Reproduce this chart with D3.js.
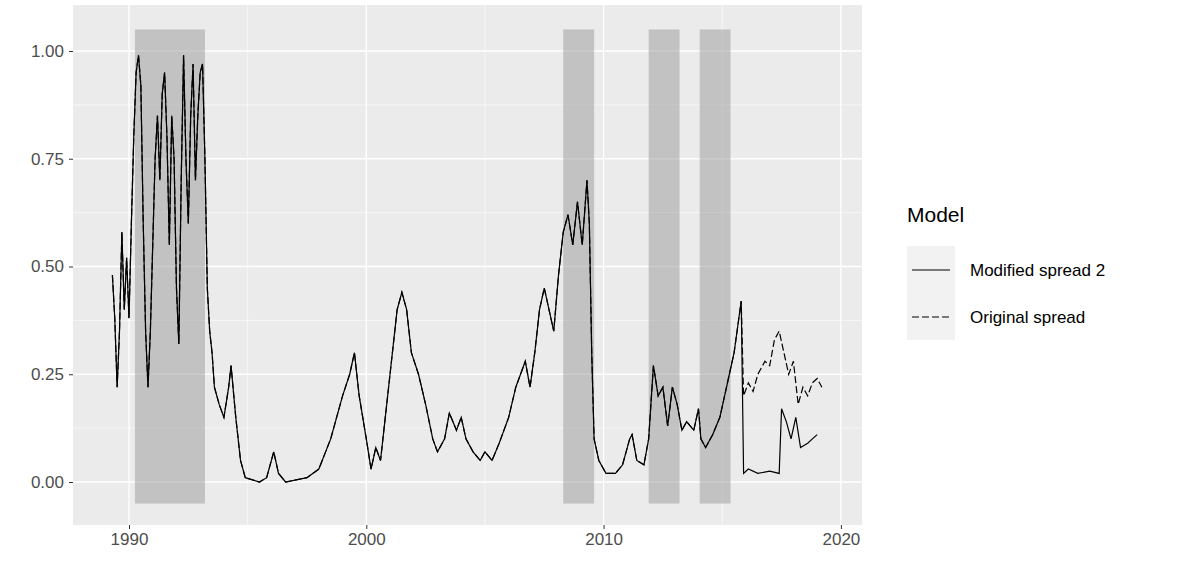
<!DOCTYPE html>
<html><head><meta charset="utf-8">
<script src="https://cdn.jsdelivr.net/npm/d3@7"></script>
<style>body{margin:0;background:#fff;font-family:"Liberation Sans",Arial,sans-serif}</style>
</head><body>
<svg id="chart" width="1184" height="567"></svg>
<script>
// shared part of both series (up to late 2015)
const commonT = [1989.3,1989.4,1989.5,1989.6,1989.7,1989.8,1989.9,1990.0,1990.1,1990.2,1990.3,1990.4,1990.5,1990.6,1990.7,1990.8,1990.9,1991.0,1991.1,1991.2,1991.3,1991.4,1991.5,1991.6,1991.7,1991.8,1991.9,1992.0,1992.1,1992.2,1992.3,1992.4,1992.5,1992.6,1992.7,1992.8,1992.9,1993.0,1993.1,1993.2,1993.3,1993.4,1993.5,1993.6,1993.8,1994.0,1994.2,1994.3,1994.5,1994.7,1994.9,1995.5,1995.8,1996.1,1996.3,1996.6,1997.5,1998.0,1998.5,1999.0,1999.3,1999.5,1999.7,2000.0,2000.2,2000.4,2000.6,2000.8,2001.0,2001.3,2001.5,2001.7,2001.9,2002.2,2002.5,2002.8,2003.0,2003.3,2003.5,2003.8,2004.0,2004.2,2004.5,2004.8,2005.0,2005.3,2005.6,2006.0,2006.3,2006.5,2006.7,2006.9,2007.1,2007.3,2007.5,2007.7,2007.9,2008.1,2008.3,2008.5,2008.7,2008.9,2009.1,2009.3,2009.4,2009.5,2009.6,2009.8,2010.1,2010.5,2010.8,2011.1,2011.2,2011.4,2011.7,2011.9,2012.1,2012.3,2012.5,2012.7,2012.9,2013.1,2013.3,2013.5,2013.8,2014.0,2014.1,2014.3,2014.6,2014.9,2015.1,2015.3,2015.5,2015.7,2015.8];
const commonV = [0.48,0.38,0.22,0.35,0.58,0.40,0.52,0.38,0.60,0.80,0.95,0.99,0.92,0.60,0.35,0.22,0.35,0.55,0.75,0.85,0.70,0.90,0.95,0.80,0.55,0.85,0.75,0.45,0.32,0.70,0.99,0.75,0.60,0.85,0.97,0.70,0.85,0.95,0.97,0.75,0.45,0.35,0.30,0.22,0.18,0.15,0.22,0.27,0.15,0.05,0.01,0.00,0.01,0.07,0.02,0.00,0.01,0.03,0.10,0.20,0.25,0.30,0.20,0.10,0.03,0.08,0.05,0.15,0.25,0.40,0.44,0.40,0.30,0.25,0.18,0.10,0.07,0.10,0.16,0.12,0.15,0.10,0.07,0.05,0.07,0.05,0.09,0.15,0.22,0.25,0.28,0.22,0.30,0.40,0.45,0.40,0.35,0.48,0.58,0.62,0.55,0.65,0.55,0.70,0.60,0.30,0.10,0.05,0.02,0.02,0.04,0.10,0.11,0.05,0.04,0.10,0.27,0.20,0.22,0.13,0.22,0.18,0.12,0.14,0.12,0.17,0.10,0.08,0.11,0.15,0.20,0.25,0.30,0.38,0.42];
const origTailT = [2015.9,2016.1,2016.3,2016.5,2016.8,2017.0,2017.2,2017.4,2017.6,2017.8,2018.0,2018.2,2018.4,2018.6,2018.8,2019.0,2019.2];
const origTailV = [0.20,0.23,0.21,0.25,0.28,0.27,0.33,0.35,0.30,0.25,0.28,0.18,0.22,0.20,0.23,0.24,0.22];
const modTailT = [2015.9,2016.1,2016.5,2017.0,2017.4,2017.5,2017.7,2017.9,2018.1,2018.3,2018.6,2018.8,2019.0];
const modTailV = [0.02,0.03,0.02,0.025,0.02,0.17,0.14,0.10,0.15,0.08,0.09,0.10,0.11];
const recStart = [1990.25,2008.3,2011.9,2014.05];
const recEnd   = [1993.2,2009.6,2013.2,2015.35];
const xTicks = [1990,2000,2010,2020];
const yTicks = [0,0.25,0.5,0.75,1];
const seriesNames = ["Modified spread 2","Original spread"];

const svg = d3.select("#chart");
const L=73,R=862,T=5,B=525;
const x = d3.scaleLinear().domain([1987.64,2020.89]).range([L,R]);
const y = d3.scaleLinear().domain([0,1]).range([482,51]);

svg.append("rect").attr("x",L).attr("y",T).attr("width",R-L).attr("height",B-T).attr("fill","#EBEBEB");
const minorX=[1995,2005,2015], minorY=[0.125,0.375,0.625,0.875,-0.125];
const g=svg.append("g");
minorX.forEach(v=>g.append("line").attr("x1",x(v)).attr("x2",x(v)).attr("y1",T).attr("y2",B).attr("stroke","#fff").attr("stroke-width",0.6));
minorY.forEach(v=>g.append("line").attr("y1",y(v)).attr("y2",y(v)).attr("x1",L).attr("x2",R).attr("stroke","#fff").attr("stroke-width",0.6));
xTicks.forEach(v=>g.append("line").attr("x1",x(v)).attr("x2",x(v)).attr("y1",T).attr("y2",B).attr("stroke","#fff").attr("stroke-width",1.3));
yTicks.forEach(v=>g.append("line").attr("y1",y(v)).attr("y2",y(v)).attr("x1",L).attr("x2",R).attr("stroke","#fff").attr("stroke-width",1.3));

recStart.forEach((s,i)=>svg.append("rect").attr("x",x(s)).attr("width",x(recEnd[i])-x(s))
  .attr("y",y(1.05)).attr("height",y(-0.05)-y(1.05)).attr("fill","#A0A0A0").attr("opacity",0.55));

const line=d3.line().x(d=>x(d[0])).y(d=>y(d[1]));
const orig=commonT.map((t,i)=>[t,commonV[i]]).concat(origTailT.map((t,i)=>[t,origTailV[i]]));
const mod=commonT.map((t,i)=>[t,commonV[i]]).concat(modTailT.map((t,i)=>[t,modTailV[i]]));
svg.append("path").attr("d",line(orig)).attr("fill","none").attr("stroke","#000").attr("stroke-width",1.2).attr("stroke-dasharray","7,3");
svg.append("path").attr("d",line(mod)).attr("fill","none").attr("stroke","#000").attr("stroke-width",1.2);

const xa=svg.append("g").attr("transform",`translate(0,${B})`).call(d3.axisBottom(x).tickValues(xTicks).tickFormat(d3.format("d")).tickSize(4).tickPadding(4));
const ya=svg.append("g").attr("transform",`translate(${L},0)`).call(d3.axisLeft(y).tickValues(yTicks).tickFormat(d3.format(".2f")).tickSize(4).tickPadding(5));
[xa,ya].forEach(a=>{a.select(".domain").remove();a.selectAll("line").attr("stroke","#333");
  a.selectAll("text").attr("fill","#4D4D4D").style("font-size","17px").style("font-family","Liberation Sans, Arial");});

const lg=svg.append("g");
lg.append("text").attr("x",907).attr("y",222).text("Model").style("font-size","21px").attr("fill","#000");
seriesNames.forEach((n,i)=>{
  const yy=270+i*47;
  lg.append("rect").attr("x",907).attr("y",yy-24).attr("width",48).attr("height",47).attr("fill","#F2F2F2");
  lg.append("line").attr("x1",912).attr("x2",950).attr("y1",yy).attr("y2",yy).attr("stroke","#000").attr("stroke-width",1.2)
    .attr("stroke-dasharray",i?"7,3":null);
  lg.append("text").attr("x",970).attr("y",yy+6).text(n).style("font-size","17px").attr("fill","#000");
});
</script>
</body></html>
